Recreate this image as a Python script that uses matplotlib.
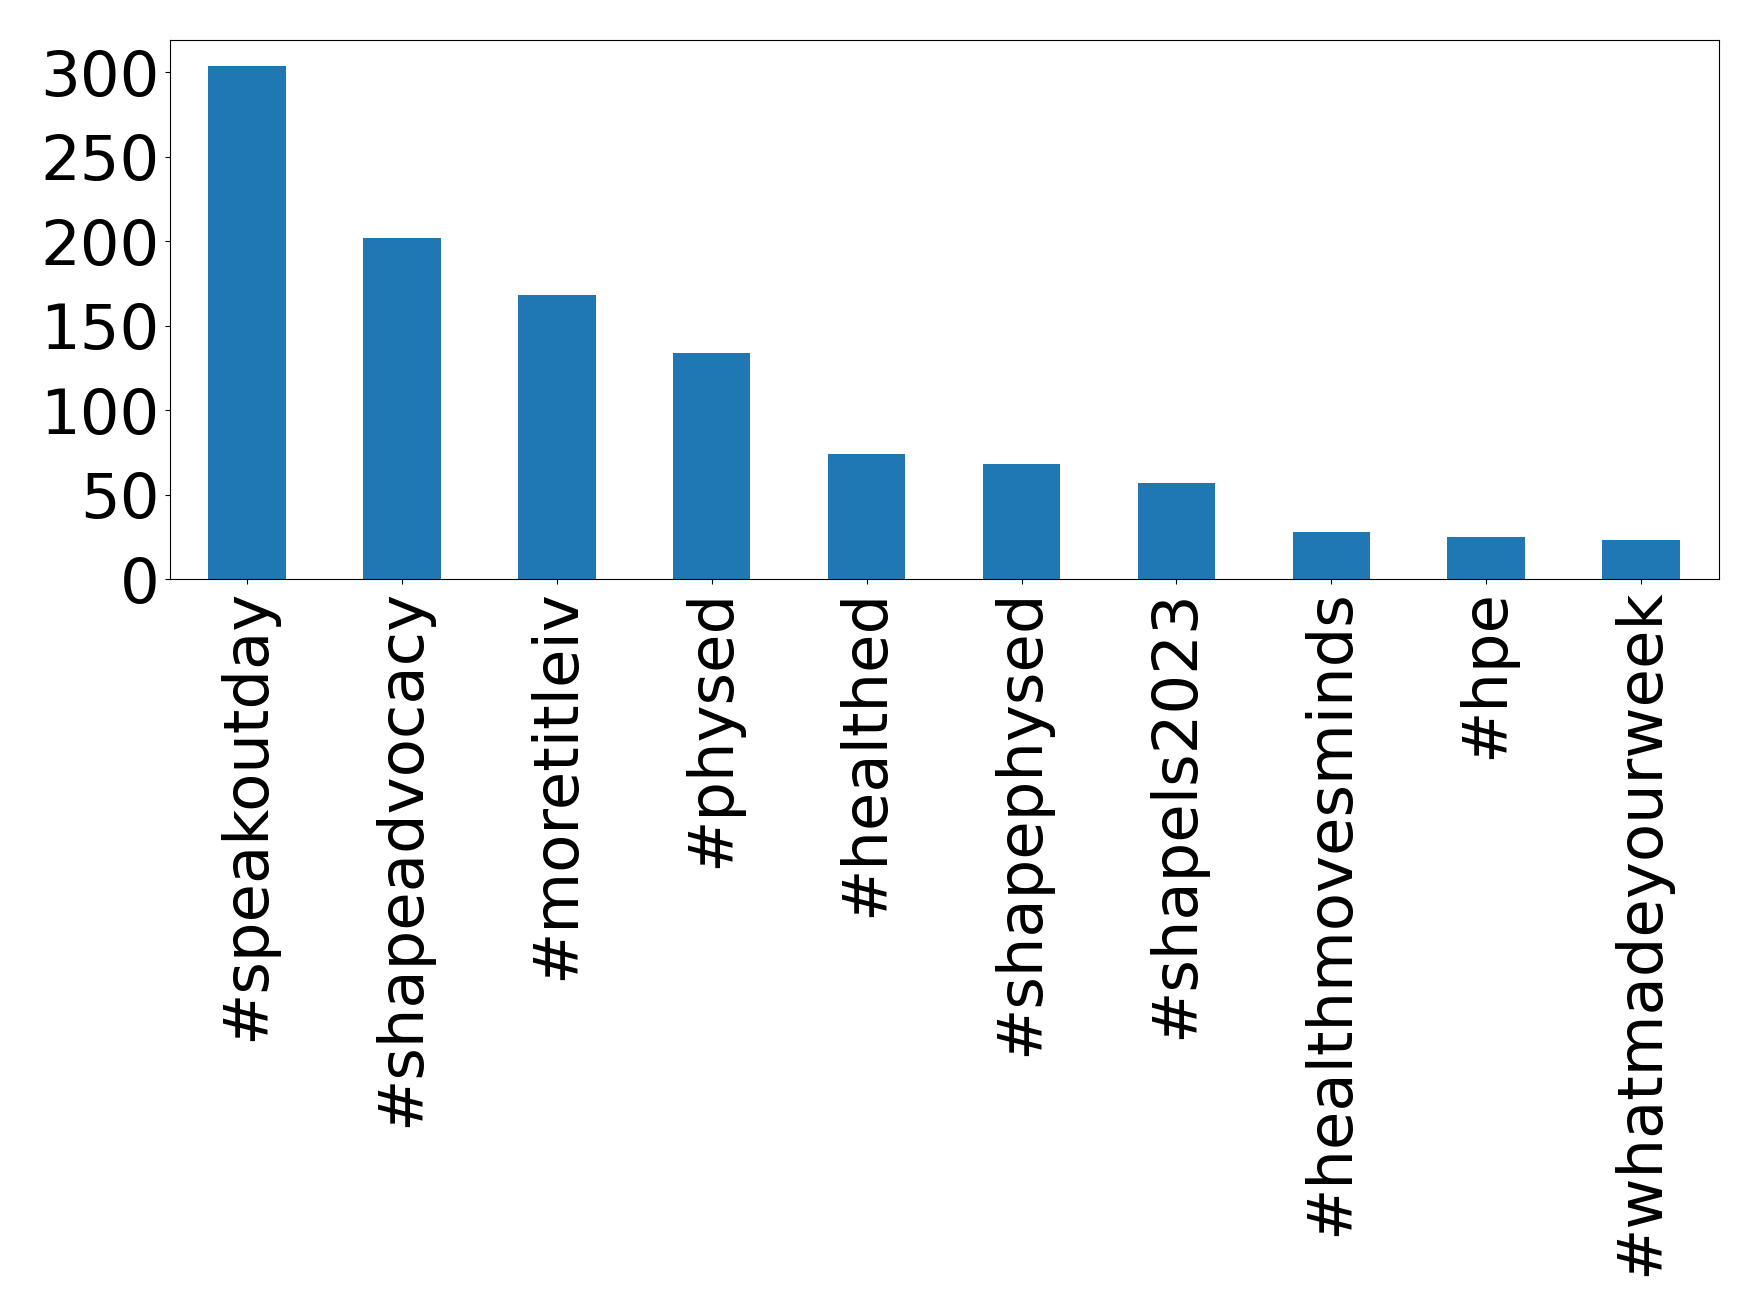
import matplotlib
matplotlib.use("Agg")
import matplotlib.pyplot as plt
import numpy as np

# hashtag counts
hashtags = ['#speakoutday', '#shapeadvocacy', '#moretitleiv', '#physed', '#healthed',
            '#shapephysed', '#shapels2023', '#healthmovesminds', '#hpe', '#whatmadeyourweek']
counts = [304, 202, 168, 134, 74, 68, 57, 28, 25, 23]
yticks = [0, 50, 100, 150, 200, 250, 300]

fig = plt.figure(figsize=(17.59, 13.16), dpi=100)
ax = fig.add_axes([0.0964, 0.56, 0.977 - 0.0964, 0.9696 - 0.56])

x = np.arange(len(hashtags))
ax.bar(x, counts, width=0.5, color='#1f77b4')
ax.set_xlim(-0.5, len(hashtags) - 0.5)
ax.set_xticks(x)
ax.set_xticklabels(hashtags, rotation=90, fontsize=45)
ax.set_yticks(yticks)
ax.tick_params(axis='y', labelsize=45)

fig.savefig('out.png', dpi=100)
